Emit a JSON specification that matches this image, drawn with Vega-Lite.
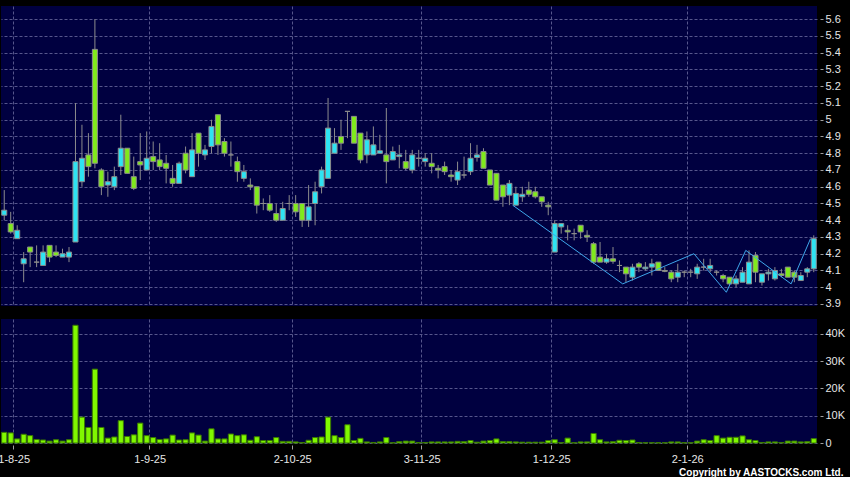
{
 "$schema": "https://vega.github.io/schema/vega-lite/v6.json",
 "background": "#000000",
 "autosize": {"type": "pad"},
 "padding": {"left": -3, "top": 6, "right": 6, "bottom": 0},
 "bounds": "flush",
 "spacing": 13,
 "config": {
  "view": {"fill": "#000040", "stroke": null},
  "font": "Liberation Sans",
  "axis": {"labelFont": "Liberation Sans", "labelFontSize": 11, "labelColor": "#e6e6e6", "tickColor": "#a0a0a0", "domain": false, "gridColor": "#56568c", "gridDash": [3, 2], "gridWidth": 1, "gridOpacity": 1, "labelOverlap": false}
 },
 "datasets": {
  "px": [
   {"d":"30-7-25","o":4.43,"h":4.58,"l":4.40,"c":4.46,"v":3900},
   {"d":"31-7-25","o":4.38,"h":4.45,"l":4.32,"c":4.33,"v":3700},
   {"d":"1-8-25","o":4.29,"h":4.37,"l":4.29,"c":4.34,"v":1500},
   {"d":"4-8-25","o":4.14,"h":4.21,"l":4.03,"c":4.17,"v":3200},
   {"d":"5-8-25","o":4.24,"h":4.24,"l":4.12,"c":4.21,"v":2700},
   {"d":"6-8-25","o":4.15,"h":4.25,"l":4.12,"c":4.15,"v":1300},
   {"d":"7-8-25","o":4.13,"h":4.25,"l":4.13,"c":4.21,"v":1100},
   {"d":"8-8-25","o":4.25,"h":4.25,"l":4.15,"c":4.18,"v":700},
   {"d":"11-8-25","o":4.21,"h":4.25,"l":4.18,"c":4.19,"v":1200},
   {"d":"12-8-25","o":4.18,"h":4.23,"l":4.18,"c":4.20,"v":700},
   {"d":"13-8-25","o":4.18,"h":4.24,"l":4.15,"c":4.21,"v":1200},
   {"d":"14-8-25","o":4.27,"h":5.10,"l":4.27,"c":4.75,"v":43200},
   {"d":"15-8-25","o":4.63,"h":4.97,"l":4.60,"c":4.77,"v":9500},
   {"d":"18-8-25","o":4.79,"h":4.92,"l":4.66,"c":4.72,"v":5700},
   {"d":"19-8-25","o":5.42,"h":5.60,"l":4.71,"c":4.74,"v":27100},
   {"d":"20-8-25","o":4.70,"h":4.71,"l":4.55,"c":4.60,"v":5700},
   {"d":"21-8-25","o":4.61,"h":4.69,"l":4.54,"c":4.63,"v":1800},
   {"d":"22-8-25","o":4.60,"h":4.72,"l":4.58,"c":4.66,"v":2200},
   {"d":"25-8-25","o":4.72,"h":5.03,"l":4.67,"c":4.83,"v":8200},
   {"d":"26-8-25","o":4.83,"h":4.83,"l":4.68,"c":4.68,"v":2400},
   {"d":"27-8-25","o":4.66,"h":4.78,"l":4.58,"c":4.59,"v":3000},
   {"d":"28-8-25","o":4.75,"h":4.92,"l":4.64,"c":4.73,"v":7300},
   {"d":"29-8-25","o":4.70,"h":4.93,"l":4.70,"c":4.77,"v":2700},
   {"d":"1-9-25","o":4.78,"h":4.87,"l":4.70,"c":4.75,"v":2000},
   {"d":"2-9-25","o":4.76,"h":4.86,"l":4.70,"c":4.72,"v":1300},
   {"d":"3-9-25","o":4.74,"h":4.79,"l":4.62,"c":4.71,"v":1500},
   {"d":"4-9-25","o":4.65,"h":4.73,"l":4.60,"c":4.62,"v":2900},
   {"d":"5-9-25","o":4.62,"h":4.75,"l":4.62,"c":4.74,"v":1100},
   {"d":"8-9-25","o":4.80,"h":4.84,"l":4.68,"c":4.70,"v":1200},
   {"d":"9-9-25","o":4.66,"h":4.92,"l":4.66,"c":4.82,"v":3700},
   {"d":"10-9-25","o":4.92,"h":4.92,"l":4.72,"c":4.80,"v":2900},
   {"d":"11-9-25","o":4.79,"h":4.85,"l":4.76,"c":4.82,"v":700},
   {"d":"12-9-25","o":4.84,"h":5.00,"l":4.80,"c":4.96,"v":5200},
   {"d":"15-9-25","o":5.03,"h":5.03,"l":4.79,"c":4.85,"v":1500},
   {"d":"16-9-25","o":4.87,"h":4.89,"l":4.78,"c":4.80,"v":1500},
   {"d":"17-9-25","o":4.79,"h":4.87,"l":4.72,"c":4.79,"v":3300},
   {"d":"18-9-25","o":4.75,"h":4.78,"l":4.63,"c":4.69,"v":2700},
   {"d":"19-9-25","o":4.65,"h":4.73,"l":4.63,"c":4.69,"v":3000},
   {"d":"22-9-25","o":4.61,"h":4.65,"l":4.58,"c":4.60,"v":1000},
   {"d":"23-9-25","o":4.60,"h":4.60,"l":4.44,"c":4.49,"v":2300},
   {"d":"24-9-25","o":4.50,"h":4.53,"l":4.46,"c":4.50,"v":900},
   {"d":"25-9-25","o":4.50,"h":4.55,"l":4.45,"c":4.46,"v":900},
   {"d":"26-9-25","o":4.44,"h":4.50,"l":4.39,"c":4.40,"v":2000},
   {"d":"29-9-25","o":4.40,"h":4.51,"l":4.40,"c":4.47,"v":600},
   {"d":"30-9-25","o":4.50,"h":4.55,"l":4.46,"c":4.50,"v":600},
   {"d":"2-10-25","o":4.50,"h":4.55,"l":4.42,"c":4.45,"v":400},
   {"d":"3-10-25","o":4.50,"h":4.50,"l":4.36,"c":4.40,"v":200},
   {"d":"6-10-25","o":4.40,"h":4.61,"l":4.36,"c":4.48,"v":1000},
   {"d":"8-10-25","o":4.50,"h":4.63,"l":4.37,"c":4.57,"v":2000},
   {"d":"9-10-25","o":4.60,"h":4.72,"l":4.56,"c":4.70,"v":2200},
   {"d":"10-10-25","o":4.65,"h":5.13,"l":4.65,"c":4.95,"v":9500},
   {"d":"13-10-25","o":4.80,"h":4.95,"l":4.80,"c":4.86,"v":2700},
   {"d":"14-10-25","o":4.90,"h":5.00,"l":4.82,"c":4.86,"v":2000},
   {"d":"15-10-25","o":5.05,"h":5.05,"l":4.89,"c":5.05,"v":6700},
   {"d":"16-10-25","o":5.02,"h":5.02,"l":4.86,"c":4.86,"v":900},
   {"d":"17-10-25","o":4.92,"h":4.92,"l":4.74,"c":4.76,"v":1700},
   {"d":"20-10-25","o":4.79,"h":4.93,"l":4.74,"c":4.88,"v":400},
   {"d":"21-10-25","o":4.79,"h":4.96,"l":4.79,"c":4.85,"v":200},
   {"d":"22-10-25","o":4.80,"h":4.91,"l":4.80,"c":4.815,"v":400},
   {"d":"23-10-25","o":4.79,"h":5.07,"l":4.62,"c":4.75,"v":2000},
   {"d":"24-10-25","o":4.76,"h":4.84,"l":4.76,"c":4.81,"v":100},
   {"d":"27-10-25","o":4.78,"h":4.85,"l":4.71,"c":4.79,"v":500},
   {"d":"28-10-25","o":4.75,"h":4.82,"l":4.70,"c":4.71,"v":700},
   {"d":"30-10-25","o":4.70,"h":4.82,"l":4.68,"c":4.79,"v":700},
   {"d":"31-10-25","o":4.77,"h":4.82,"l":4.72,"c":4.77,"v":200},
   {"d":"3-11-25","o":4.75,"h":4.80,"l":4.72,"c":4.77,"v":200},
   {"d":"4-11-25","o":4.74,"h":4.80,"l":4.68,"c":4.72,"v":400},
   {"d":"5-11-25","o":4.71,"h":4.73,"l":4.65,"c":4.70,"v":400},
   {"d":"6-11-25","o":4.72,"h":4.75,"l":4.67,"c":4.69,"v":400},
   {"d":"7-11-25","o":4.67,"h":4.70,"l":4.63,"c":4.66,"v":400},
   {"d":"10-11-25","o":4.64,"h":4.75,"l":4.61,"c":4.69,"v":600},
   {"d":"11-11-25","o":4.67,"h":4.78,"l":4.65,"c":4.67,"v":500},
   {"d":"12-11-25","o":4.69,"h":4.86,"l":4.67,"c":4.77,"v":900},
   {"d":"13-11-25","o":4.775,"h":4.85,"l":4.75,"c":4.79,"v":300},
   {"d":"14-11-25","o":4.81,"h":4.83,"l":4.71,"c":4.71,"v":700},
   {"d":"17-11-25","o":4.70,"h":4.70,"l":4.61,"c":4.61,"v":900},
   {"d":"18-11-25","o":4.68,"h":4.68,"l":4.52,"c":4.52,"v":1500},
   {"d":"19-11-25","o":4.61,"h":4.61,"l":4.48,"c":4.54,"v":500},
   {"d":"20-11-25","o":4.55,"h":4.64,"l":4.49,"c":4.62,"v":500},
   {"d":"21-11-25","o":4.49,"h":4.60,"l":4.49,"c":4.56,"v":400,"z":4.49},
   {"d":"24-11-25","o":4.54,"h":4.60,"l":4.51,"c":4.555,"v":300},
   {"d":"25-11-25","o":4.58,"h":4.63,"l":4.54,"c":4.555,"v":300},
   {"d":"26-11-25","o":4.57,"h":4.60,"l":4.53,"c":4.54,"v":300},
   {"d":"27-11-25","o":4.54,"h":4.54,"l":4.48,"c":4.51,"v":300},
   {"d":"28-11-25","o":4.49,"h":4.51,"l":4.43,"c":4.48,"v":900},
   {"d":"1-12-25","o":4.21,"h":4.40,"l":4.21,"c":4.38,"v":1200},
   {"d":"2-12-25","o":4.36,"h":4.38,"l":4.32,"c":4.38,"v":100},
   {"d":"3-12-25","o":4.34,"h":4.37,"l":4.28,"c":4.33,"v":1800},
   {"d":"4-12-25","o":4.32,"h":4.35,"l":4.28,"c":4.32,"v":100},
   {"d":"5-12-25","o":4.37,"h":4.37,"l":4.29,"c":4.33,"v":400},
   {"d":"8-12-25","o":4.31,"h":4.34,"l":4.27,"c":4.30,"v":400},
   {"d":"9-12-25","o":4.26,"h":4.27,"l":4.14,"c":4.15,"v":3500},
   {"d":"10-12-25","o":4.18,"h":4.27,"l":4.15,"c":4.15,"v":1200},
   {"d":"11-12-25","o":4.15,"h":4.20,"l":4.14,"c":4.17,"v":400},
   {"d":"12-12-25","o":4.17,"h":4.24,"l":4.14,"c":4.155,"v":500},
   {"d":"15-12-25","o":4.13,"h":4.16,"l":4.09,"c":4.13,"v":1000},
   {"d":"16-12-25","o":4.12,"h":4.12,"l":4.03,"c":4.08,"v":900,"z":4.02},
   {"d":"17-12-25","o":4.06,"h":4.14,"l":4.04,"c":4.12,"v":1100},
   {"d":"18-12-25","o":4.14,"h":4.15,"l":4.09,"c":4.12,"v":200},
   {"d":"19-12-25","o":4.11,"h":4.15,"l":4.10,"c":4.12,"v":100},
   {"d":"22-12-25","o":4.12,"h":4.17,"l":4.07,"c":4.14,"v":100},
   {"d":"23-12-25","o":4.15,"h":4.15,"l":4.10,"c":4.10,"v":100},
   {"d":"24-12-25","o":4.10,"h":4.12,"l":4.09,"c":4.095,"v":100},
   {"d":"29-12-25","o":4.09,"h":4.10,"l":4.03,"c":4.05,"v":400},
   {"d":"30-12-25","o":4.06,"h":4.14,"l":4.03,"c":4.09,"v":400},
   {"d":"31-12-25","o":4.09,"h":4.10,"l":4.06,"c":4.09,"v":100},
   {"d":"2-1-26","o":4.09,"h":4.11,"l":4.06,"c":4.09,"v":100},
   {"d":"5-1-26","o":4.08,"h":4.14,"l":4.05,"c":4.12,"v":700,"z":4.20},
   {"d":"6-1-26","o":4.12,"h":4.17,"l":4.10,"c":4.12,"v":1200},
   {"d":"7-1-26","o":4.11,"h":4.17,"l":4.09,"c":4.13,"v":900},
   {"d":"8-1-26","o":4.09,"h":4.10,"l":4.07,"c":4.09,"v":2700},
   {"d":"9-1-26","o":4.07,"h":4.08,"l":4.03,"c":4.05,"v":1800},
   {"d":"12-1-26","o":4.06,"h":4.06,"l":4.01,"c":4.02,"v":2100,"z":3.97},
   {"d":"13-1-26","o":4.02,"h":4.07,"l":4.00,"c":4.05,"v":2100},
   {"d":"14-1-26","o":4.03,"h":4.12,"l":4.03,"c":4.09,"v":2600},
   {"d":"15-1-26","o":4.02,"h":4.22,"l":4.02,"c":4.15,"v":1200,"z":4.22},
   {"d":"16-1-26","o":4.19,"h":4.21,"l":4.03,"c":4.09,"v":900},
   {"d":"19-1-26","o":4.03,"h":4.08,"l":4.01,"c":4.08,"v":200},
   {"d":"20-1-26","o":4.08,"h":4.11,"l":4.04,"c":4.09,"v":400},
   {"d":"21-1-26","o":4.05,"h":4.12,"l":4.04,"c":4.10,"v":400},
   {"d":"22-1-26","o":4.08,"h":4.11,"l":4.06,"c":4.07,"v":200},
   {"d":"23-1-26","o":4.12,"h":4.12,"l":4.06,"c":4.06,"v":700},
   {"d":"26-1-26","o":4.09,"h":4.10,"l":4.03,"c":4.06,"v":700,"z":4.02},
   {"d":"27-1-26","o":4.04,"h":4.09,"l":4.04,"c":4.07,"v":400},
   {"d":"28-1-26","o":4.09,"h":4.12,"l":4.06,"c":4.11,"v":500},
   {"d":"29-1-26","o":4.11,"h":4.31,"l":4.09,"c":4.29,"v":1600,"z":4.29}
  ]
 },
 "vconcat": [
  {
   "width": 816,
   "height": 300,
   "data": {"name": "px"},
   "encoding": {
    "x": {"field": "d", "type": "ordinal", "sort": null,
     "scale": {"type": "band", "paddingInner": 0, "paddingOuter": 0},
     "axis": {"values": ["1-8-25", "1-9-25", "2-10-25", "3-11-25", "1-12-25", "2-1-26"], "bandPosition": 0, "labels": false, "ticks": false, "grid": true, "title": null}}
   },
   "layer": [
    {
     "mark": {"type": "rule", "color": "#8c8c8c", "strokeWidth": 1},
     "encoding": {
      "y": {"field": "l", "type": "quantitative",
       "scale": {"domain": [3.888, 5.679], "nice": false, "zero": false},
       "axis": {"orient": "right", "title": null, "values": [3.9, 4.0, 4.1, 4.2, 4.3, 4.4, 4.5, 4.6, 4.7, 4.8, 4.9, 5.0, 5.1, 5.2, 5.3, 5.4, 5.5, 5.6], "tickCount": 100,
        "labelExpr": "toString(round(datum.value * 10) / 10)", "labelOverlap": false, "grid": true, "tickSize": 3, "offset": 3, "labelPadding": 2}},
      "y2": {"field": "h"}
     }
    },
    {
     "mark": {"type": "bar", "width": {"band": 0.78}, "stroke": "#8c8c8c", "strokeWidth": 1},
     "encoding": {
      "y": {"field": "o", "type": "quantitative", "scale": {"domain": [3.888, 5.679], "nice": false, "zero": false}},
      "y2": {"field": "c"},
      "fill": {"condition": [{"test": "datum.c > datum.o", "value": "#2ee3f2"}, {"test": "datum.c < datum.o", "value": "#80ea1c"}], "value": "#9a9a9a"}
     }
    },
    {
     "transform": [{"filter": "isValid(datum.z)"}],
     "mark": {"type": "line", "color": "#3ea6ea", "strokeWidth": 1},
     "encoding": {
      "x": {"field": "d", "type": "ordinal", "sort": null, "bandPosition": 0},
      "y": {"field": "z", "type": "quantitative", "scale": {"domain": [3.888, 5.679], "nice": false, "zero": false}}
     }
    }
   ]
  },
  {
   "width": 816,
   "height": 124,
   "data": {"name": "px"},
   "mark": {"type": "bar", "width": {"band": 0.8}, "fill": "#80f800", "stroke": "#3a7a00", "strokeWidth": 1},
   "encoding": {
    "x": {"field": "d", "type": "ordinal", "sort": null,
     "scale": {"type": "band", "paddingInner": 0, "paddingOuter": 0},
     "axis": {"values": ["1-8-25", "1-9-25", "2-10-25", "3-11-25", "1-12-25", "2-1-26"], "bandPosition": 0, "grid": true, "ticks": true, "tickSize": 4, "offset": 2, "labelPadding": 4, "labelAngle": 0, "labelOffset": -3,
      "title": "Copyright by AASTOCKS.com Ltd.", "titleX": 842, "titleY": 30, "titleAlign": "right", "titleBaseline": "alphabetic", "titleColor": "#ffffff", "titleFont": "Liberation Sans", "titleFontSize": 10, "titleFontWeight": "bold"}},
    "y": {"field": "v", "type": "quantitative",
     "scale": {"domain": [0, 45500], "nice": false},
     "axis": {"orient": "right", "title": null, "values": [0, 10000, 20000, 30000, 40000], "tickCount": 100, "labelExpr": "datum.value == 0 ? '0' : (datum.value / 1000) + 'K'", "grid": true, "tickSize": 3, "offset": 3, "labelPadding": 2}}
   }
  }
 ]
}
